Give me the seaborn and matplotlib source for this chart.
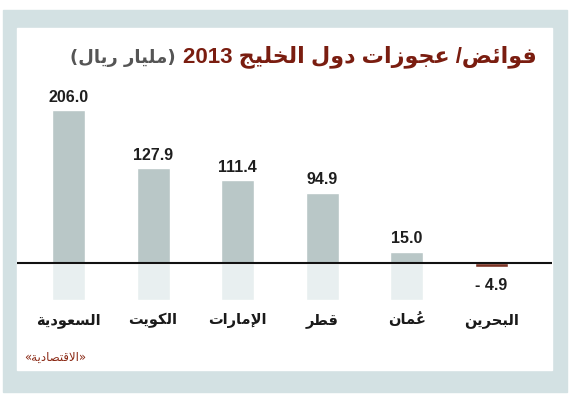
import matplotlib
matplotlib.use("Agg")
import matplotlib.pyplot as plt
from matplotlib.patches import Rectangle
import pandas as pd
import seaborn as sns

# ==========================================
# data (picture order, left to right)
# ==========================================
countries = ["السعودية", "الكويت", "الإمارات", "قطر", "عُمان", "البحرين"]
values = [206.0, 127.9, 111.4, 94.9, 15.0, -4.9]
title_main = "فوائض/ عجوزات دول الخليج"
title_year = "2013"
title_unit = "مليار ريال"
source = "الاقتصادية"

# ==========================================
# tiny arabic shaper (matplotlib has no bidi / joining)
# ==========================================
# isolated, final, initial, medial
FORMS = {
    "\u0621": (0xFE80, None, None, None),
    "\u0622": (0xFE81, 0xFE82, None, None),
    "\u0623": (0xFE83, 0xFE84, None, None),
    "\u0624": (0xFE85, 0xFE86, None, None),
    "\u0625": (0xFE87, 0xFE88, None, None),
    "\u0626": (0xFE89, 0xFE8A, 0xFE8B, 0xFE8C),
    "\u0627": (0xFE8D, 0xFE8E, None, None),
    "\u0628": (0xFE8F, 0xFE90, 0xFE91, 0xFE92),
    "\u0629": (0xFE93, 0xFE94, None, None),
    "\u062A": (0xFE95, 0xFE96, 0xFE97, 0xFE98),
    "\u062B": (0xFE99, 0xFE9A, 0xFE9B, 0xFE9C),
    "\u062C": (0xFE9D, 0xFE9E, 0xFE9F, 0xFEA0),
    "\u062D": (0xFEA1, 0xFEA2, 0xFEA3, 0xFEA4),
    "\u062E": (0xFEA5, 0xFEA6, 0xFEA7, 0xFEA8),
    "\u062F": (0xFEA9, 0xFEAA, None, None),
    "\u0630": (0xFEAB, 0xFEAC, None, None),
    "\u0631": (0xFEAD, 0xFEAE, None, None),
    "\u0632": (0xFEAF, 0xFEB0, None, None),
    "\u0633": (0xFEB1, 0xFEB2, 0xFEB3, 0xFEB4),
    "\u0634": (0xFEB5, 0xFEB6, 0xFEB7, 0xFEB8),
    "\u0635": (0xFEB9, 0xFEBA, 0xFEBB, 0xFEBC),
    "\u0636": (0xFEBD, 0xFEBE, 0xFEBF, 0xFEC0),
    "\u0637": (0xFEC1, 0xFEC2, 0xFEC3, 0xFEC4),
    "\u0638": (0xFEC5, 0xFEC6, 0xFEC7, 0xFEC8),
    "\u0639": (0xFEC9, 0xFECA, 0xFECB, 0xFECC),
    "\u063A": (0xFECD, 0xFECE, 0xFECF, 0xFED0),
    "\u0641": (0xFED1, 0xFED2, 0xFED3, 0xFED4),
    "\u0642": (0xFED5, 0xFED6, 0xFED7, 0xFED8),
    "\u0643": (0xFED9, 0xFEDA, 0xFEDB, 0xFEDC),
    "\u0644": (0xFEDD, 0xFEDE, 0xFEDF, 0xFEE0),
    "\u0645": (0xFEE1, 0xFEE2, 0xFEE3, 0xFEE4),
    "\u0646": (0xFEE5, 0xFEE6, 0xFEE7, 0xFEE8),
    "\u0647": (0xFEE9, 0xFEEA, 0xFEEB, 0xFEEC),
    "\u0648": (0xFEED, 0xFEEE, None, None),
    "\u0649": (0xFEEF, 0xFEF0, None, None),
    "\u064A": (0xFEF1, 0xFEF2, 0xFEF3, 0xFEF4),
}
LAMALEF = {"\u0622": (0xFEF5, 0xFEF6), "\u0623": (0xFEF7, 0xFEF8),
           "\u0625": (0xFEF9, 0xFEFA), "\u0627": (0xFEFB, 0xFEFC)}
MIRROR = {"(": ")", ")": "(", "«": "»", "»": "«"}


def is_mark(c):
    return "\u064B" <= c <= "\u0652"


def shape(s):
    toks = []
    i = 0
    while i < len(s):
        if s[i] == "\u0644" and i + 1 < len(s) and s[i + 1] in LAMALEF:
            toks.append(("LA", s[i + 1]))
            i += 2
        else:
            toks.append(s[i])
            i += 1

    def joins_prev(t):
        return (isinstance(t, tuple) or t in FORMS) and t != "\u0621"

    def joins_next(t):
        return (not isinstance(t, tuple)) and t in FORMS and FORMS[t][2] is not None

    def neighbour(k, step):
        k += step
        while 0 <= k < len(toks):
            t = toks[k]
            if isinstance(t, tuple) or not is_mark(t):
                return t
            k += step
        return None

    out = []
    for k, t in enumerate(toks):
        if not isinstance(t, tuple) and (is_mark(t) or t not in FORMS):
            out.append(t)
            continue
        p, n = neighbour(k, -1), neighbour(k, 1)
        cp = p is not None and joins_next(p) and joins_prev(t)
        cn = n is not None and joins_next(t) and joins_prev(n)
        if isinstance(t, tuple):
            iso, fin = LAMALEF[t[1]]
            out.append(chr(fin if cp else iso))
            continue
        f = FORMS[t]
        if cp and cn:
            code = f[3]
        elif cp:
            code = f[1]
        elif cn:
            code = f[2]
        else:
            code = f[0]
        out.append(chr(code))
    return out


def visual(s):
    # reverse clusters for right-to-left display; marks go in front of
    # their base so they land on top of it
    glyphs = shape(s)
    clusters = []
    for g in glyphs:
        if is_mark(g) and clusters:
            clusters[-1] = g + clusters[-1]
        else:
            clusters.append(MIRROR.get(g, g))
    return "".join(reversed(clusters))


# ==========================================
# figure
# ==========================================
W, H = 571, 395
FRAME = "#d3e1e3"
BAR = "#b7c9c9"
GHOST = "#e8eff0"
RED = "#8a2814"
TITLE_RED = "#7a1d10"
ARABIC = ["DejaVu Sans"]
LATIN = ["Liberation Sans", "DejaVu Sans"]


def fx(px):
    return px / W


def fy(py):
    return 1 - py / H


sns.set_style("white")
fig = plt.figure(figsize=(W / 100, H / 100), dpi=100)
fig.patch.set_facecolor("white")
fig.patches.append(Rectangle((fx(3), fy(392)), fx(567) - fx(3), fy(10) - fy(392),
                             transform=fig.transFigure, color=FRAME, zorder=-2))
fig.patches.append(Rectangle((fx(17), fy(370)), fx(552) - fx(17), fy(28) - fy(370),
                             transform=fig.transFigure, color="white", zorder=-1))

ax = fig.add_axes([fx(17), fy(300), fx(552) - fx(17), fy(40) - fy(300)])
ax.set_facecolor("none")

df = pd.DataFrame({"country": countries, "value": values})
colors = {c: (BAR if v >= 0 else RED) for c, v in zip(countries, values)}
pos = list(range(len(countries)))
ymin, ymax = -50, 301
bw = 0.39

# pale stubs under the positive bars
ax.bar([p for p, v in zip(pos, values) if v > 0], ymin, width=bw, color=GHOST, zorder=1)

sns.barplot(data=df, x="country", y="value", hue="country", order=countries,
            palette=colors, width=bw, legend=False, ax=ax, zorder=2)

ax.axhline(0, color="#111111", lw=1.5, zorder=3)
ax.set_xlim(-0.61, 5.72)
ax.set_ylim(ymin, ymax)
ax.set_xlabel("")
ax.set_ylabel("")
ax.set_yticks([])
ax.set_xticks(pos)
ax.set_xticklabels([visual(c) for c in countries], family=ARABIC, fontweight="bold",
                   fontsize=10.5, color="#1a1a1a")
ax.tick_params(axis="x", length=0, pad=9)
sns.despine(ax=ax, left=True, bottom=True)

for p, v in zip(pos, values):
    if v >= 0:
        ax.annotate(f"{v:.1f}", (p, v), xytext=(0, 4), textcoords="offset points",
                    ha="center", va="bottom", family=["Liberation Sans"], fontweight="bold",
                    fontsize=11.5, color="#1e1e1e")
    else:
        ax.annotate("- " + f"{abs(v):.1f}", (p, v), xytext=(0, -8), textcoords="offset points",
                    ha="center", va="top", family=["Liberation Sans"], fontweight="bold",
                    fontsize=11.5, color="#1e1e1e")

# title: red part right aligned, grey unit to its left
t_main = fig.text(fx(537), fy(57), title_year + " " + visual(title_main), ha="right",
                  va="center", family=LATIN, fontweight="bold", fontsize=16, color=TITLE_RED)
fig.canvas.draw()
bb = t_main.get_window_extent(fig.canvas.get_renderer())
fig.text(bb.x0 / W - fx(8), fy(58), visual("(" + title_unit + ")"), ha="right", va="center",
         family=ARABIC, fontweight="bold", fontsize=13, color="#555555")

fig.text(fx(24), fy(357), visual("«" + source + "»"), ha="left", va="center",
         family=ARABIC, fontsize=8.5, color=RED)

fig.savefig("out.png", dpi=100)
